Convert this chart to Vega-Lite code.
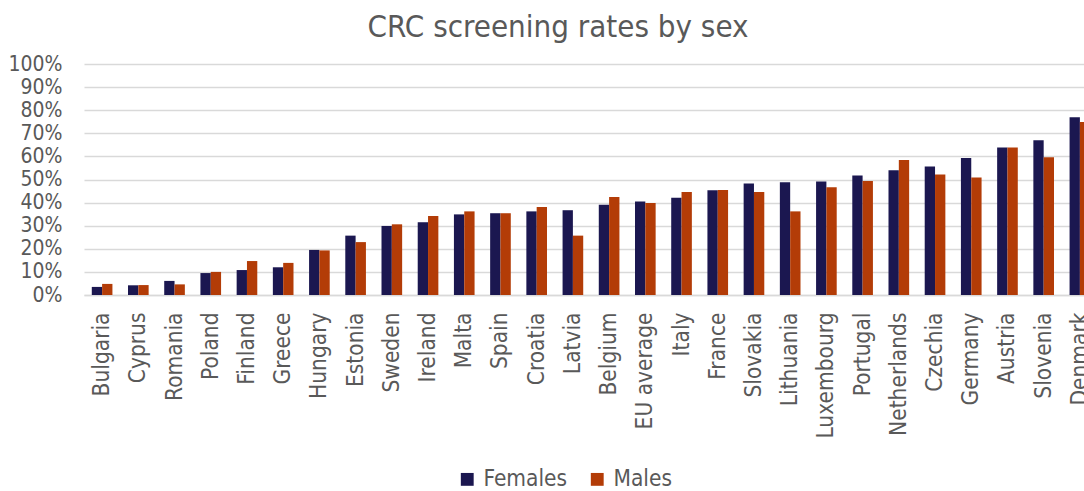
{
  "$schema": "https://vega.github.io/schema/vega-lite/v6.json",
  "width": 1014,
  "height": 231,
  "autosize": {"type": "none"},
  "padding": {"left": 84, "top": 64, "right": -14, "bottom": 196},
  "background": "white",
  "config": {
    "view": {"stroke": null},
    "font": "DejaVu Sans Condensed"
  },
  "title": {
    "text": "CRC screening rates by sex",
    "font": "DejaVu Sans Condensed",
    "fontSize": 31,
    "fontWeight": "normal",
    "color": "#595959",
    "anchor": "middle",
    "frame": "group",
    "dx": -33,
    "offset": 9
  },
  "data": {
    "values": [
      {"country": "Bulgaria", "sex": "Females", "value": 0.035},
      {"country": "Bulgaria", "sex": "Males", "value": 0.048},
      {"country": "Cyprus", "sex": "Females", "value": 0.042},
      {"country": "Cyprus", "sex": "Males", "value": 0.043},
      {"country": "Romania", "sex": "Females", "value": 0.061},
      {"country": "Romania", "sex": "Males", "value": 0.046},
      {"country": "Poland", "sex": "Females", "value": 0.095},
      {"country": "Poland", "sex": "Males", "value": 0.100},
      {"country": "Finland", "sex": "Females", "value": 0.108},
      {"country": "Finland", "sex": "Males", "value": 0.147},
      {"country": "Greece", "sex": "Females", "value": 0.120},
      {"country": "Greece", "sex": "Males", "value": 0.139},
      {"country": "Hungary", "sex": "Females", "value": 0.195},
      {"country": "Hungary", "sex": "Males", "value": 0.193},
      {"country": "Estonia", "sex": "Females", "value": 0.257},
      {"country": "Estonia", "sex": "Males", "value": 0.229},
      {"country": "Sweden", "sex": "Females", "value": 0.299},
      {"country": "Sweden", "sex": "Males", "value": 0.306},
      {"country": "Ireland", "sex": "Females", "value": 0.315},
      {"country": "Ireland", "sex": "Males", "value": 0.342},
      {"country": "Malta", "sex": "Females", "value": 0.349},
      {"country": "Malta", "sex": "Males", "value": 0.362},
      {"country": "Spain", "sex": "Females", "value": 0.354},
      {"country": "Spain", "sex": "Males", "value": 0.354},
      {"country": "Croatia", "sex": "Females", "value": 0.362},
      {"country": "Croatia", "sex": "Males", "value": 0.381},
      {"country": "Latvia", "sex": "Females", "value": 0.367},
      {"country": "Latvia", "sex": "Males", "value": 0.257},
      {"country": "Belgium", "sex": "Females", "value": 0.391},
      {"country": "Belgium", "sex": "Males", "value": 0.424},
      {"country": "EU average", "sex": "Females", "value": 0.405},
      {"country": "EU average", "sex": "Males", "value": 0.398},
      {"country": "Italy", "sex": "Females", "value": 0.421},
      {"country": "Italy", "sex": "Males", "value": 0.446},
      {"country": "France", "sex": "Females", "value": 0.453},
      {"country": "France", "sex": "Males", "value": 0.455},
      {"country": "Slovakia", "sex": "Females", "value": 0.483},
      {"country": "Slovakia", "sex": "Males", "value": 0.446},
      {"country": "Lithuania", "sex": "Females", "value": 0.488},
      {"country": "Lithuania", "sex": "Males", "value": 0.362},
      {"country": "Luxembourg", "sex": "Females", "value": 0.491},
      {"country": "Luxembourg", "sex": "Males", "value": 0.466},
      {"country": "Portugal", "sex": "Females", "value": 0.517},
      {"country": "Portugal", "sex": "Males", "value": 0.494},
      {"country": "Netherlands", "sex": "Females", "value": 0.540},
      {"country": "Netherlands", "sex": "Males", "value": 0.584},
      {"country": "Czechia", "sex": "Females", "value": 0.556},
      {"country": "Czechia", "sex": "Males", "value": 0.522},
      {"country": "Germany", "sex": "Females", "value": 0.593},
      {"country": "Germany", "sex": "Males", "value": 0.509},
      {"country": "Austria", "sex": "Females", "value": 0.638},
      {"country": "Austria", "sex": "Males", "value": 0.639},
      {"country": "Slovenia", "sex": "Females", "value": 0.670},
      {"country": "Slovenia", "sex": "Males", "value": 0.596},
      {"country": "Denmark", "sex": "Females", "value": 0.769},
      {"country": "Denmark", "sex": "Males", "value": 0.749}
    ]
  },
  "mark": {"type": "bar"},
  "encoding": {
    "x": {
      "field": "country",
      "type": "nominal",
      "sort": null,
      "scale": {"paddingInner": 0.43, "paddingOuter": 0.215},
      "axis": {
        "title": null,
        "labelAngle": -90,
        "labelAlign": "right",
        "labelBaseline": "middle",
        "labelFontSize": 22.5,
        "labelColor": "#595959",
        "labelPadding": 17,
        "ticks": false,
        "domainColor": "#d9d9d9",
        "domainWidth": 1.5,
        "labelOverlap": false
      }
    },
    "xOffset": {"field": "sex", "type": "nominal", "sort": ["Females", "Males"]},
    "y": {
      "field": "value",
      "type": "quantitative",
      "scale": {"domain": [0, 1], "nice": false},
      "axis": {
        "title": null,
        "format": ".0%",
        "values": [0, 0.1, 0.2, 0.3, 0.4, 0.5, 0.6, 0.7, 0.8, 0.9, 1.0],
        "labelFontSize": 21,
        "labelColor": "#595959",
        "labelPadding": 22,
        "ticks": false,
        "domain": false,
        "gridColor": "#d9d9d9",
        "gridWidth": 1.5
      }
    },
    "color": {
      "field": "sex",
      "type": "nominal",
      "sort": ["Females", "Males"],
      "scale": {"domain": ["Females", "Males"], "range": ["#1b1750", "#b33c07"]},
      "legend": {
        "title": null,
        "orient": "none",
        "direction": "horizontal",
        "legendX": 372,
        "legendY": 404,
        "symbolType": "square",
        "symbolSize": 165,
        "symbolStrokeWidth": 0,
        "labelFontSize": 22.5,
        "labelColor": "#595959",
        "labelOffset": 5,
        "columnPadding": 18
      }
    }
  }
}
